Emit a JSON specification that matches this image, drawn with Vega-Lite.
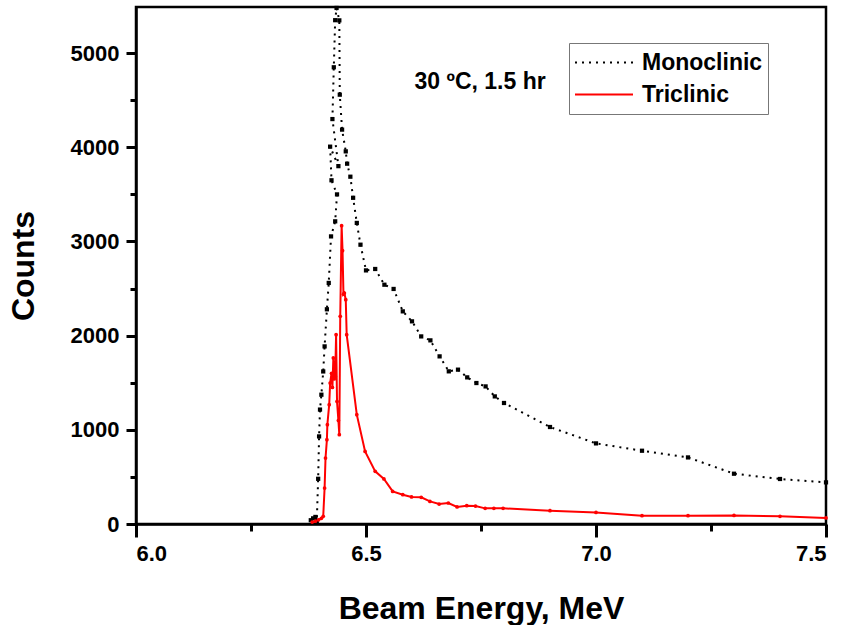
{
  "$schema": "https://vega.github.io/schema/vega-lite/v6.json",
  "width": 690,
  "height": 517,
  "autosize": "none",
  "padding": {"left": 136, "top": 7, "right": 19, "bottom": 101},
  "background": "white",
  "config": {
    "view": {"stroke": "black", "strokeWidth": 2.5},
    "font": "Liberation Sans"
  },
  "datasets": {
    "spectra": [
      {"s": "Monoclinic", "i": 1, "e": 6.380, "c": 40},
      {"s": "Monoclinic", "i": 2, "e": 6.385, "c": 60},
      {"s": "Monoclinic", "i": 3, "e": 6.390, "c": 75},
      {"s": "Monoclinic", "i": 4, "e": 6.393, "c": 30},
      {"s": "Monoclinic", "i": 5, "e": 6.396, "c": 480},
      {"s": "Monoclinic", "i": 6, "e": 6.398, "c": 930},
      {"s": "Monoclinic", "i": 7, "e": 6.400, "c": 1215},
      {"s": "Monoclinic", "i": 8, "e": 6.403, "c": 1373},
      {"s": "Monoclinic", "i": 9, "e": 6.407, "c": 1620},
      {"s": "Monoclinic", "i": 10, "e": 6.410, "c": 1886},
      {"s": "Monoclinic", "i": 11, "e": 6.415, "c": 2280},
      {"s": "Monoclinic", "i": 12, "e": 6.419, "c": 2560},
      {"s": "Monoclinic", "i": 13, "e": 6.424, "c": 3054},
      {"s": "Monoclinic", "i": 14, "e": 6.433, "c": 3214},
      {"s": "Monoclinic", "i": 15, "e": 6.437, "c": 3500},
      {"s": "Monoclinic", "i": 16, "e": 6.425, "c": 3650},
      {"s": "Monoclinic", "i": 17, "e": 6.422, "c": 4007},
      {"s": "Monoclinic", "i": 18, "e": 6.440, "c": 3800},
      {"s": "Monoclinic", "i": 19, "e": 6.427, "c": 4300},
      {"s": "Monoclinic", "i": 20, "e": 6.430, "c": 4850},
      {"s": "Monoclinic", "i": 21, "e": 6.433, "c": 5350},
      {"s": "Monoclinic", "i": 22, "e": 6.436, "c": 5480},
      {"s": "Monoclinic", "i": 23, "e": 6.442, "c": 5348},
      {"s": "Monoclinic", "i": 24, "e": 6.443, "c": 4559},
      {"s": "Monoclinic", "i": 25, "e": 6.448, "c": 4188},
      {"s": "Monoclinic", "i": 26, "e": 6.456, "c": 3957},
      {"s": "Monoclinic", "i": 27, "e": 6.459, "c": 3826},
      {"s": "Monoclinic", "i": 28, "e": 6.466, "c": 3688},
      {"s": "Monoclinic", "i": 29, "e": 6.472, "c": 3464},
      {"s": "Monoclinic", "i": 30, "e": 6.480, "c": 3197},
      {"s": "Monoclinic", "i": 31, "e": 6.488, "c": 2966},
      {"s": "Monoclinic", "i": 32, "e": 6.50, "c": 2693},
      {"s": "Monoclinic", "i": 33, "e": 6.52, "c": 2708},
      {"s": "Monoclinic", "i": 34, "e": 6.54, "c": 2541},
      {"s": "Monoclinic", "i": 35, "e": 6.56, "c": 2496},
      {"s": "Monoclinic", "i": 36, "e": 6.58, "c": 2258},
      {"s": "Monoclinic", "i": 37, "e": 6.60, "c": 2152},
      {"s": "Monoclinic", "i": 38, "e": 6.62, "c": 1992},
      {"s": "Monoclinic", "i": 39, "e": 6.64, "c": 1950},
      {"s": "Monoclinic", "i": 40, "e": 6.66, "c": 1780},
      {"s": "Monoclinic", "i": 41, "e": 6.68, "c": 1621},
      {"s": "Monoclinic", "i": 42, "e": 6.70, "c": 1639},
      {"s": "Monoclinic", "i": 43, "e": 6.72, "c": 1557},
      {"s": "Monoclinic", "i": 44, "e": 6.74, "c": 1497},
      {"s": "Monoclinic", "i": 45, "e": 6.76, "c": 1461},
      {"s": "Monoclinic", "i": 46, "e": 6.78, "c": 1355},
      {"s": "Monoclinic", "i": 47, "e": 6.80, "c": 1285},
      {"s": "Monoclinic", "i": 48, "e": 6.90, "c": 1030},
      {"s": "Monoclinic", "i": 49, "e": 7.00, "c": 856},
      {"s": "Monoclinic", "i": 50, "e": 7.10, "c": 778},
      {"s": "Monoclinic", "i": 51, "e": 7.20, "c": 707},
      {"s": "Monoclinic", "i": 52, "e": 7.30, "c": 534},
      {"s": "Monoclinic", "i": 53, "e": 7.40, "c": 478},
      {"s": "Monoclinic", "i": 54, "e": 7.50, "c": 442},
      {"s": "Triclinic", "i": 1, "e": 6.383, "c": 20},
      {"s": "Triclinic", "i": 2, "e": 6.390, "c": 30},
      {"s": "Triclinic", "i": 3, "e": 6.397, "c": 45},
      {"s": "Triclinic", "i": 4, "e": 6.403, "c": 60},
      {"s": "Triclinic", "i": 5, "e": 6.407, "c": 81},
      {"s": "Triclinic", "i": 6, "e": 6.410, "c": 382},
      {"s": "Triclinic", "i": 7, "e": 6.412, "c": 700},
      {"s": "Triclinic", "i": 8, "e": 6.415, "c": 895},
      {"s": "Triclinic", "i": 9, "e": 6.416, "c": 1055},
      {"s": "Triclinic", "i": 10, "e": 6.420, "c": 1267},
      {"s": "Triclinic", "i": 11, "e": 6.422, "c": 1497},
      {"s": "Triclinic", "i": 12, "e": 6.425, "c": 1600},
      {"s": "Triclinic", "i": 13, "e": 6.427, "c": 1450},
      {"s": "Triclinic", "i": 14, "e": 6.429, "c": 1763},
      {"s": "Triclinic", "i": 15, "e": 6.431, "c": 1540},
      {"s": "Triclinic", "i": 16, "e": 6.433, "c": 1568},
      {"s": "Triclinic", "i": 17, "e": 6.435, "c": 2010},
      {"s": "Triclinic", "i": 18, "e": 6.437, "c": 1302},
      {"s": "Triclinic", "i": 19, "e": 6.440, "c": 1100},
      {"s": "Triclinic", "i": 20, "e": 6.442, "c": 948},
      {"s": "Triclinic", "i": 21, "e": 6.444, "c": 2205},
      {"s": "Triclinic", "i": 22, "e": 6.447, "c": 3168},
      {"s": "Triclinic", "i": 23, "e": 6.449, "c": 2902},
      {"s": "Triclinic", "i": 24, "e": 6.451, "c": 2440},
      {"s": "Triclinic", "i": 25, "e": 6.453, "c": 2453},
      {"s": "Triclinic", "i": 26, "e": 6.456, "c": 2382},
      {"s": "Triclinic", "i": 27, "e": 6.458, "c": 2010},
      {"s": "Triclinic", "i": 28, "e": 6.480, "c": 1161},
      {"s": "Triclinic", "i": 29, "e": 6.498, "c": 771},
      {"s": "Triclinic", "i": 30, "e": 6.520, "c": 559},
      {"s": "Triclinic", "i": 31, "e": 6.539, "c": 478},
      {"s": "Triclinic", "i": 32, "e": 6.558, "c": 346},
      {"s": "Triclinic", "i": 33, "e": 6.580, "c": 311},
      {"s": "Triclinic", "i": 34, "e": 6.599, "c": 287},
      {"s": "Triclinic", "i": 35, "e": 6.620, "c": 283},
      {"s": "Triclinic", "i": 36, "e": 6.639, "c": 240},
      {"s": "Triclinic", "i": 37, "e": 6.659, "c": 212},
      {"s": "Triclinic", "i": 38, "e": 6.679, "c": 223},
      {"s": "Triclinic", "i": 39, "e": 6.698, "c": 181},
      {"s": "Triclinic", "i": 40, "e": 6.719, "c": 194},
      {"s": "Triclinic", "i": 41, "e": 6.738, "c": 191},
      {"s": "Triclinic", "i": 42, "e": 6.759, "c": 166},
      {"s": "Triclinic", "i": 43, "e": 6.778, "c": 166},
      {"s": "Triclinic", "i": 44, "e": 6.798, "c": 166},
      {"s": "Triclinic", "i": 45, "e": 6.90, "c": 141},
      {"s": "Triclinic", "i": 46, "e": 7.00, "c": 123},
      {"s": "Triclinic", "i": 47, "e": 7.10, "c": 88},
      {"s": "Triclinic", "i": 48, "e": 7.20, "c": 88},
      {"s": "Triclinic", "i": 49, "e": 7.30, "c": 91},
      {"s": "Triclinic", "i": 50, "e": 7.40, "c": 81},
      {"s": "Triclinic", "i": 51, "e": 7.50, "c": 64}
    ],
    "note": [
      {"e": 6.748, "c": 4697, "t": "30 ºC, 1.5 hr"}
    ]
  },
  "layer": [
    {
      "data": {"name": "spectra"},
      "transform": [{"filter": "datum.s === 'Monoclinic'"}],
      "mark": {"type": "line", "strokeWidth": 2, "strokeDash": [2, 5]},
      "encoding": {
        "x": {
          "field": "e", "type": "quantitative",
          "scale": {"domain": [6.0, 7.5], "nice": false, "zero": false},
          "axis": {
            "values": [6.0, 6.25, 6.5, 6.75, 7.0, 7.25, 7.5],
            "labelExpr": "(datum.value * 4) % 2 === 0 ? format(datum.value, '.1f') : ''",
            "gridOpacity": 0,
            "ticks": true, "tickOpacity": 1,
            "tickColor": "black", "tickWidth": 3,
            "tickSize": {"condition": {"test": "(datum.value * 4) % 2 === 0", "value": 13}, "value": 7},
            "domain": true, "domainColor": "black", "domainWidth": 2.5,
            "labelPadding": 6, "labelFont": "Liberation Sans", "labelFontWeight": "bold", "labelFontSize": 22, "labelColor": "black",
            "title": "Beam Energy, MeV", "titlePadding": 29,
            "titleFont": "Liberation Sans", "titleFontWeight": "bold", "titleFontSize": 32, "titleColor": "black"
          }
        },
        "y": {
          "field": "c", "type": "quantitative",
          "scale": {"domain": [0, 5490], "nice": false, "zero": false},
          "axis": {
            "values": [0, 500, 1000, 1500, 2000, 2500, 3000, 3500, 4000, 4500, 5000],
            "labelExpr": "datum.value % 1000 === 0 ? format(datum.value, 'd') : ''",
            "gridOpacity": 0,
            "ticks": true, "tickOpacity": 1,
            "tickColor": "black", "tickWidth": 3,
            "tickSize": {"condition": {"test": "datum.value % 1000 === 0", "value": 10}, "value": 6},
            "domain": true, "domainColor": "black", "domainWidth": 2.5,
            "labelPadding": 7, "labelFont": "Liberation Sans", "labelFontWeight": "bold", "labelFontSize": 22, "labelColor": "black",
            "title": "Counts", "titlePadding": 30,
            "titleFont": "Liberation Sans", "titleFontWeight": "bold", "titleFontSize": 32, "titleColor": "black"
          }
        },
        "order": {"field": "i", "type": "quantitative"},
        "color": {
          "field": "s", "type": "nominal",
          "scale": {"domain": ["Monoclinic", "Triclinic"], "range": ["#000000", "#ff0000"]},
          "legend": {
            "title": null, "orient": "none", "legendX": 433, "legendY": 36,
            "fillColor": "white", "strokeColor": "#777777", "padding": 5,
            "labelFont": "Liberation Sans", "labelFontWeight": "bold", "labelFontSize": 23, "labelColor": "black",
            "symbolType": "M-1,0H3", "symbolSize": 841, "symbolStrokeWidth": 2, "labelOffset": 37, "rowPadding": 3, "clipHeight": 29,
            "encode": {
              "symbols": {
                "update": {
                  "shape": {"value": "M-1,0H3"},
                  "size": {"value": 841},
                  "fill": {"value": "transparent"},
                  "strokeWidth": {"value": 2},
                  "stroke": [{"test": "datum.value === 'Monoclinic'", "value": "#000000"}, {"value": "#ff0000"}],
                  "strokeDash": [{"test": "datum.value === 'Monoclinic'", "value": [2, 5]}, {"value": [1, 0]}]
                }
              }
            }
          }
        }
      }
    },
    {
      "data": {"name": "spectra"},
      "transform": [{"filter": "datum.s === 'Triclinic'"}],
      "mark": {"type": "line", "strokeWidth": 2},
      "encoding": {
        "x": {"field": "e", "type": "quantitative"},
        "y": {"field": "c", "type": "quantitative"},
        "order": {"field": "i", "type": "quantitative"},
        "color": {"field": "s", "type": "nominal", "legend": null}
      }
    },
    {
      "data": {"name": "spectra"},
      "transform": [{"filter": "datum.s === 'Monoclinic'"}],
      "mark": {"type": "point", "shape": "square", "filled": true, "opacity": 1, "size": 18},
      "encoding": {
        "x": {"field": "e", "type": "quantitative"},
        "y": {"field": "c", "type": "quantitative"},
        "color": {"field": "s", "type": "nominal", "legend": null}
      }
    },
    {
      "data": {"name": "spectra"},
      "transform": [{"filter": "datum.s === 'Triclinic'"}],
      "mark": {"type": "point", "shape": "circle", "filled": true, "opacity": 1, "size": 14},
      "encoding": {
        "x": {"field": "e", "type": "quantitative"},
        "y": {"field": "c", "type": "quantitative"},
        "color": {"field": "s", "type": "nominal", "legend": null}
      }
    },
    {
      "data": {"name": "note"},
      "mark": {"type": "text", "font": "Liberation Sans", "fontWeight": "bold", "fontSize": 23, "color": "black", "align": "center", "baseline": "middle"},
      "encoding": {
        "x": {"field": "e", "type": "quantitative"},
        "y": {"field": "c", "type": "quantitative"},
        "text": {"field": "t"}
      }
    }
  ]
}
